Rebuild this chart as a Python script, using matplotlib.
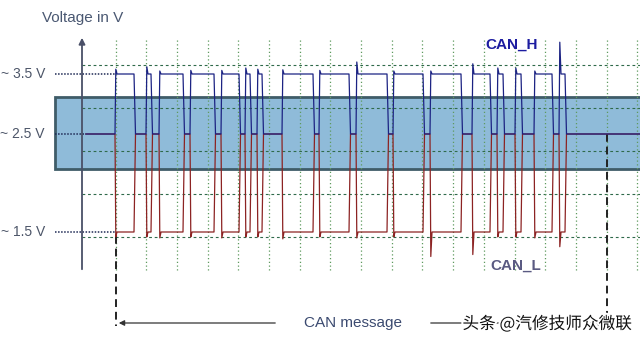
import numpy as np
import matplotlib.pyplot as plt
from matplotlib.patches import Rectangle
import matplotlib.patheffects as pe

plt.rcParams['font.family'] = ['Liberation Sans', 'DejaVu Sans']

# bus levels
levels = [3.5, 2.5, 1.5]
level_labels = ['~ 3.5 V', '~ 2.5 V', '~ 1.5 V']
recessive = 2.5

# dominant bits on the time axis (start / end)
dom_start = [115, 146, 159, 190, 221, 245, 257, 282, 319, 356, 393, 430, 472, 497, 515, 534, 559]
dom_end = [134, 151, 183, 214, 239, 250, 262, 313, 349, 387, 423, 461, 490, 503, 521, 552, 565]
# overshoot at the start of each dominant bit
h_peak = [3.58, 3.62, 3.55, 3.56, 3.56, 3.6, 3.58, 3.57, 3.56, 3.7, 3.55, 3.55, 3.67, 3.6, 3.6, 3.55, 4.03]
l_peak = [1.45, 1.45, 1.44, 1.45, 1.44, 1.45, 1.45, 1.43, 1.45, 1.44, 1.45, 1.25, 1.27, 1.45, 1.45, 1.44, 1.35]
t_first, t_last = 86, 640
msg_start, msg_end = 116, 607

# schematic (non linear) voltage scale of the drawing
v_pts = [-2.0, 1.5, 2.5, 3.5, 7.0]
row_pts = [575, 232, 134, 74, -136]


def fwd(v):
    return -np.interp(v, v_pts, row_pts)


def inv(s):
    return np.interp(-np.asarray(s), row_pts[::-1], v_pts[::-1])


def row(r):
    # screen row -> volts, only for decorations
    return float(np.interp(r, row_pts[::-1], v_pts[::-1]))


def build(peaks, dom_level):
    t, v = [t_first], [recessive]
    for s, e, p in zip(dom_start, dom_end, peaks):
        t += [s, s + 0.8, s + 2, e, e + 1.5]
        v += [recessive, p, dom_level, dom_level, recessive]
    t.append(t_last)
    v.append(recessive)
    return t, v


fig = plt.figure(figsize=(6.4, 3.46), dpi=100)
ax = fig.add_axes([0, 0, 1, 1])
ax.set_yscale('function', functions=(fwd, inv))
ax.set_xlim(0, 640)
ax.set_ylim(row(346), row(0))
ax.axis('off')

# blue band around the recessive level
ax.add_patch(Rectangle((55, row(169)), 600, row(97) - row(169),
                       facecolor='#8fbbd9', edgecolor='#3f5c68', lw=2, zorder=1))

# scope grid
for r in [65, 108, 151, 194, 237]:
    ax.plot([82, 640], [row(r)] * 2, ls=(0, (2.5, 2.5)), color='#2f6a4a', lw=0.8, zorder=2)
for x in np.arange(115.5, 640, 30.7):
    ax.plot([x, x], [row(40), row(272)], ls=(0, (1, 2)), color='#5f9a5f', lw=0.9, zorder=2)

# level markers
for v, lab, x1 in zip(levels, level_labels, [115, 86, 115]):
    ax.plot([55, x1], [v, v], ls=(0, (1, 1)), color='#1f2a55', lw=1.1, zorder=3)
    ax.text(45, v, lab, ha='right', va='center', fontsize=10, color='#4c5568')

# y axis arrow
ax.annotate('', xy=(82, row(35)), xytext=(82, row(272)),
            arrowprops=dict(arrowstyle='-|>', color='#4a5068', lw=1.3, mutation_scale=9),
            zorder=4)
ax.text(83, row(18), 'Voltage in V', ha='center', va='center', fontsize=11, color='#4a5872')

# traces
th, vh = build(h_peak, 3.5)
tl, vl = build(l_peak, 1.5)
ax.plot(tl, vl, color='#8c2323', lw=0.9, zorder=5)
ax.plot(th, vh, color='#1c2383', lw=0.9, zorder=6)

ax.text(512, row(45), 'CAN_H', ha='center', va='center', fontsize=11,
        fontweight='bold', color='#1c1ca0')
ax.text(516, row(266), 'CAN_L', ha='center', va='center', fontsize=11,
        fontweight='bold', color='#5a5a82')

# message bounds
ax.plot([msg_start] * 2, [row(236), row(326)], ls=(0, (4, 2.5)), color='#222222', lw=1.4, zorder=4)
ax.plot([msg_end] * 2, [recessive, row(326)], ls=(0, (4, 2.5)), color='#222222', lw=1.4, zorder=4)
ax.annotate('', xy=(msg_start, row(323)), xytext=(278, row(323)),
            arrowprops=dict(arrowstyle='-|>', color='#333333', lw=0.9, mutation_scale=8))
ax.annotate('', xy=(msg_end, row(323)), xytext=(428, row(323)),
            arrowprops=dict(arrowstyle='-|>', color='#333333', lw=0.9, mutation_scale=8))
ax.text(353, row(323), 'CAN message', ha='center', va='center', fontsize=11, color='#3b4a70')

ax.text(547, row(324), '头条 @汽修技师众微联', ha='center', va='center', fontsize=12,
        family=['Noto Sans CJK SC', 'DejaVu Sans'], color='#111111', zorder=8,
        path_effects=[pe.withStroke(linewidth=3, foreground='white')])

fig.savefig('out.png', dpi=100)
